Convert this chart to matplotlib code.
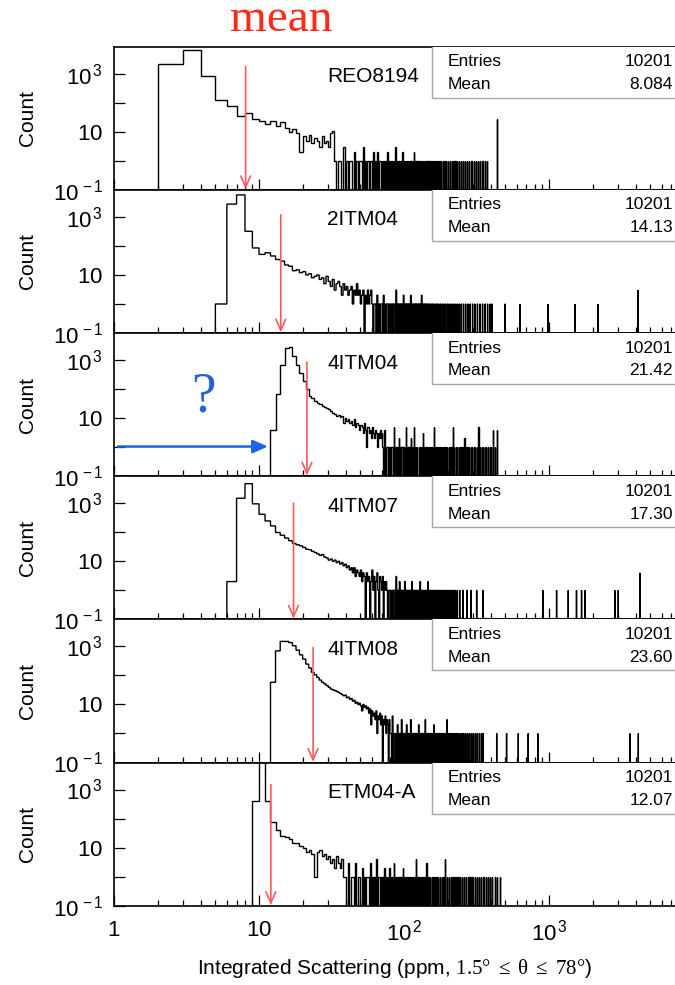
import numpy as np
import matplotlib
matplotlib.use("Agg")
import matplotlib.pyplot as plt
from matplotlib.patches import Rectangle
from matplotlib.ticker import LogLocator, FixedLocator, NullFormatter, FuncFormatter

plt.rcParams["font.family"] = ["Liberation Sans", "DejaVu Sans"]
plt.rcParams["mathtext.fontset"] = "custom"
plt.rcParams["mathtext.rm"] = "Liberation Serif"
plt.rcParams["mathtext.it"] = "Liberation Serif:italic"
plt.rcParams["mathtext.sf"] = "Liberation Sans"

# Data
names = ["REO8194", "2ITM04", "4ITM04", "4ITM07", "4ITM08", "ETM04-A"]
entries = ["10201", "10201", "10201", "10201", "10201", "10201"]
mean_labels = ["8.084", "14.13", "21.42", "17.30", "23.60", "12.07"]
means = [8.084, 14.13, 21.42, 17.30, 23.60, 12.07]
arrow_top = [1750, 1170, 860, 1000, 910, 1480]
starts = [2, 5, 12, 6, 12, 9]

# counts of consecutive 1-ppm bins from the start value
p1_body = [2130, 6600, 850, 126, 75, 36, 45, 28, 24, 19, 23, 16, 21, 14, 10, 12, 9, 2,
           7, 5, 8, 4, 6, 5, 3, 7, 4, 5, 3, 9]
p2_body = [1, 2750, 5700, 318, 85, 51, 58, 45, 34, 30, 22, 20, 14, 15, 12, 13, 10, 11, 8,
           9, 10, 7, 8, 5, 9, 6, 4, 7, 3, 5, 6, 4, 2, 5, 3, 4, 2, 3, 4, 1, 3, 2, 5, 2, 3,
           1, 2, 3, 0, 2, 1, 3, 1, 2]
p3_body = [4, 66, 700, 2600, 2750, 1350, 700, 365, 190, 98, 58, 51, 39, 34, 30, 26, 24,
           22, 20, 17, 15, 14, 12, 13, 11, 12, 7, 10, 8, 9, 7, 8, 6, 9, 5, 7, 6, 4, 6, 5,
           3, 7, 4, 1, 5, 3, 4, 2, 5, 3, 2, 4, 3, 1, 3, 2, 4, 2, 3]
p4_body = [2, 1480, 4700, 950, 415, 245, 165, 98, 79, 63, 51, 41, 37, 34, 30, 26, 25, 22,
           20, 18, 16, 17, 14, 13, 11, 12, 10, 11, 9, 10, 8, 9, 7, 8, 6, 7, 5, 6, 4, 6, 3,
           5, 4, 3, 5, 2, 4, 3, 0, 4, 2, 3, 0, 2, 5, 1, 3, 0, 2, 4, 1, 0, 3, 2, 1, 3, 0, 2,
           1, 2]
p5_body = [58, 700, 1480, 1480, 1350, 1050, 740, 510, 365, 245, 180, 128, 105, 85, 69, 58,
           51, 45, 39, 34, 32, 30, 28, 26, 24, 22, 20, 21, 17, 18, 15, 16, 13, 14, 11, 12,
           10, 11, 9, 6, 10, 8, 9, 7, 8, 5, 7, 2, 6, 4, 5, 3, 6, 1, 4, 3, 5, 2, 4, 0, 3, 2,
           4, 1, 3, 2, 0, 3, 1]
p6_body = [400, 9100, 400, 74, 39, 26, 23, 20, 15, 14, 11, 10, 7, 8, 6, 1, 7, 8, 5, 6, 4,
           5, 3, 4, 2, 5, 3, 2, 4, 1]

# single-count bins in the tails (empty bins in between)
p1_tail = [33, 35, 36, 38, 40, 42, 43, 45, 47, 49, 50, 52, 54, 56, 58, 59, 61, 63, 65, 67,
           68, 70, 72, 74, 76, 78, 80, 81, 83, 85, 87, 89, 91, 93, 95, 97, 99, 101, 103,
           105, 108, 110, 112, 115, 117, 120, 122, 125, 128, 131, 134, 137, 140, 143, 147,
           150, 154, 158, 162, 166, 170, 175, 180, 185, 190, 195, 201, 207, 213, 219, 226,
           233, 240, 248, 256, 264, 273, 282, 292, 302, 313, 324, 336, 348, 361, 374]
p2_tail = [60, 62, 63, 65, 67, 69, 70, 72, 74, 76, 77, 79, 81, 83, 85, 86, 88, 90, 92, 94,
           95, 97, 99, 101, 103, 105, 107, 109, 111, 113, 115, 118, 120, 122, 125, 127, 130,
           132, 135, 138, 141, 144, 147, 150, 154, 157, 161, 165, 169, 173, 178, 183, 188,
           193, 199, 205, 211, 218, 225, 232, 240, 248, 257, 266, 276, 286, 297, 309, 321,
           334, 348, 362, 377, 393, 405, 498, 630, 985, 1510, 2180]
p3_tail = [71, 73, 75, 76, 78, 80, 82, 83, 85, 87, 89, 90, 92, 94, 96, 97, 99, 101, 103,
           105, 107, 109, 111, 113, 115, 117, 119, 121, 123, 126, 128, 130, 133, 135, 138,
           140, 143, 146, 149, 152, 155, 158, 161, 164, 167, 171, 174, 178, 182, 186, 190,
           194, 198, 203, 207, 212, 217, 222, 227, 232, 238, 243, 249, 255, 261, 268, 274,
           281, 288, 295, 302, 310, 318, 326, 334, 343, 352, 361, 370, 380, 390, 400, 411,
           422]
p4_tail = [76, 78, 79, 81, 83, 85, 86, 88, 90, 92, 93, 95, 97, 99, 101, 103, 105, 107, 109,
           111, 113, 115, 117, 120, 122, 124, 127, 129, 132, 134, 137, 140, 143, 146, 149,
           152, 155, 159, 162, 166, 170, 174, 178, 182, 187, 192, 197, 202, 208, 214, 220,
           226, 233, 242, 255, 272, 290, 317, 351, 910, 1130, 1360, 1550, 1680, 1770, 2850,
           3010]
p5_tail = [81, 83, 85, 86, 88, 90, 92, 94, 96, 98, 100, 102, 104, 106, 108, 111, 113, 115,
           117, 119, 122, 124, 126, 129, 131, 134, 137, 140, 142, 145, 148, 151, 154, 158,
           161, 165, 168, 172, 176, 180, 184, 188, 193, 198, 203, 208, 213, 219, 225, 231,
           237, 244, 251, 258, 266, 274, 282, 291, 300, 310, 320, 331, 342, 352, 436, 510,
           615, 720, 840, 3620, 4140]
p6_tail = [39, 41, 43, 44, 46, 48, 49, 51, 53, 55, 56, 58, 60, 62, 64, 66, 67, 69, 71, 73,
           75, 77, 79, 81, 83, 85, 87, 89, 91, 94, 96, 98, 100, 103, 105, 108, 110, 113, 115,
           118, 121, 124, 127, 130, 133, 136, 140, 143, 147, 151, 155, 159, 163, 167, 172,
           177, 182, 187, 192, 198, 204, 210, 216, 223, 230, 237, 244, 252, 260, 269, 278,
           287, 297, 307, 318, 329, 341, 353, 366, 379, 393, 407, 422, 440, 458]

# bins above one count in the tails (position, count)
p1_big = [(32, 11), (38, 3), (45, 2), (52, 3), (61, 2), (65, 2), (76, 2), (87, 3),
          (97, 2), (117, 2), (436, 28)]
p2_big = [(59, 3), (65, 2), (72, 2), (88, 3), (99, 2), (111, 2), (132, 2), (4110, 3)]
p3_big = [(73, 4), (85, 5), (92, 2), (103, 5), (111, 2), (117, 5), (135, 3), (161, 5),
          (217, 5), (261, 2), (326, 5), (411, 4), (436, 4)]
p4_big = [(88, 3), (93, 2), (101, 2), (113, 2), (129, 2), (146, 2), (4240, 4)]
p5_big = [(83, 4), (90, 2), (96, 3), (104, 2), (111, 3), (126, 2), (140, 3), (161, 2),
          (198, 3)]
p6_big = [(41, 3), (46, 3), (51, 2), (58, 3), (64, 4), (73, 2), (79, 2), (85, 3), (98, 2),
          (121, 4), (143, 3), (192, 4)]

bodies = [p1_body, p2_body, p3_body, p4_body, p5_body, p6_body]
tails = [p1_tail, p2_tail, p3_tail, p4_tail, p5_tail, p6_tail]
bigs = [p1_big, p2_big, p3_big, p4_big, p5_big, p6_big]


def build(start, body, tail, big):
    last = max([start + len(body)] + tail + [b[0] for b in big]) + 1
    edges = np.arange(start, last + 1, 1.0)
    counts = np.zeros(len(edges) - 1)
    counts[:len(body)] = body
    for x in tail:
        counts[x - start] = 1
    for x, n in big:
        counts[x - start] = n
    return edges, counts


ylabels = {0.1: r"$\mathsf{10^{\,-1}}$", 10: r"$\mathsf{10}$", 1000: r"$\mathsf{10^{\,3}}$"}
xlabels = {1: r"$\mathsf{1}$", 10: r"$\mathsf{10}$", 100: r"$\mathsf{10^{\,2}}$",
           1000: r"$\mathsf{10^{\,3}}$"}

fig, axes = plt.subplots(6, 1, figsize=(6.75, 9.85), dpi=100, sharex=True)
fig.subplots_adjust(left=0.169, right=1.0, top=0.9526, bottom=0.0805, hspace=0)

for i, ax in enumerate(axes):
    edges, counts = build(starts[i], bodies[i], tails[i], bigs[i])
    vals = np.where(counts > 0, counts, 1e-3)
    ax.stairs(vals, edges, baseline=1e-3, color="black", lw=1.0)

    ax.set_xscale("log")
    ax.set_yscale("log")
    ax.set_xlim(1, 10 ** 3.87)
    ax.set_ylim(0.1, 8500)

    ax.yaxis.set_major_locator(FixedLocator([0.1, 1, 10, 100, 1000]))
    ax.yaxis.set_minor_locator(LogLocator(base=10, subs=np.arange(2, 10)))
    ax.yaxis.set_minor_formatter(NullFormatter())
    ax.yaxis.set_major_formatter(FuncFormatter(lambda v, p: ylabels.get(round(v, 3), "")))
    ax.xaxis.set_major_locator(FixedLocator([1, 10, 100, 1000]))
    ax.xaxis.set_minor_locator(LogLocator(base=10, subs=np.arange(2, 10)))
    ax.xaxis.set_minor_formatter(NullFormatter())
    ax.xaxis.set_major_formatter(FuncFormatter(lambda v, p: xlabels.get(round(v), "")))

    ax.tick_params(which="both", direction="in", top=False, right=False, width=0.9)
    ax.tick_params(which="major", length=8, labelsize=16)
    ax.tick_params(which="minor", length=4)
    ax.tick_params(axis="y", pad=8)
    ax.tick_params(axis="x", pad=10)
    ax.spines["right"].set_visible(False)
    for s in ["left", "top", "bottom"]:
        ax.spines[s].set_linewidth(1.2)

    # stats box
    ax.add_patch(Rectangle((0.567, 0.644), 0.5, 0.4, transform=ax.transAxes,
                           fc="white", ec="#a8a8a8", lw=1.0, zorder=3, clip_on=True))
    ax.text(0.595, 0.895, "Entries", transform=ax.transAxes, fontsize=12.5, va="center", zorder=4)
    ax.text(0.595, 0.735, "Mean", transform=ax.transAxes, fontsize=12.5, va="center", zorder=4)
    ax.text(0.996, 0.895, entries[i], transform=ax.transAxes, fontsize=12.5, va="center",
            ha="right", zorder=4)
    ax.text(0.996, 0.735, mean_labels[i], transform=ax.transAxes, fontsize=12.5, va="center",
            ha="right", zorder=4)
    ax.text(0.38, 0.79, names[i], transform=ax.transAxes, fontsize=15, va="center")

    # mean arrow
    ax.annotate("", xy=(means[i], 0.105), xytext=(means[i], arrow_top[i]),
                arrowprops=dict(arrowstyle="->,head_length=0.8,head_width=0.35",
                                color="#ff5a5a", lw=1.2, shrinkA=0, shrinkB=0))

    pos = ax.get_position()
    fig.text(0.04, (pos.y0 + pos.y1) / 2, "Count", rotation=90, fontsize=15,
             ha="center", va="center")

axes[-1].set_xlabel(r"Integrated Scattering (ppm, $\mathrm{1.5°\ \leq\ \theta\ \leq\ 78°}$)",
                    fontsize=15, labelpad=8)

axes[2].annotate("", xy=(11.5, 1.05), xytext=(1.06, 1.05),
                 arrowprops=dict(arrowstyle="-|>,head_length=0.9,head_width=0.4",
                                 color="#1f62e8", lw=1.8, shrinkA=0, shrinkB=0))
fig.text(203 / 675, 1 - 397 / 985, "?", color="#1f62e8", fontsize=40,
         family="Liberation Serif", ha="center", va="center")
fig.text(281 / 675, 1 - 20 / 985, "mean", color="#ff2a1a", fontsize=34,
         family="Liberation Serif", ha="center", va="center")

fig.savefig("out.png", dpi=100)
